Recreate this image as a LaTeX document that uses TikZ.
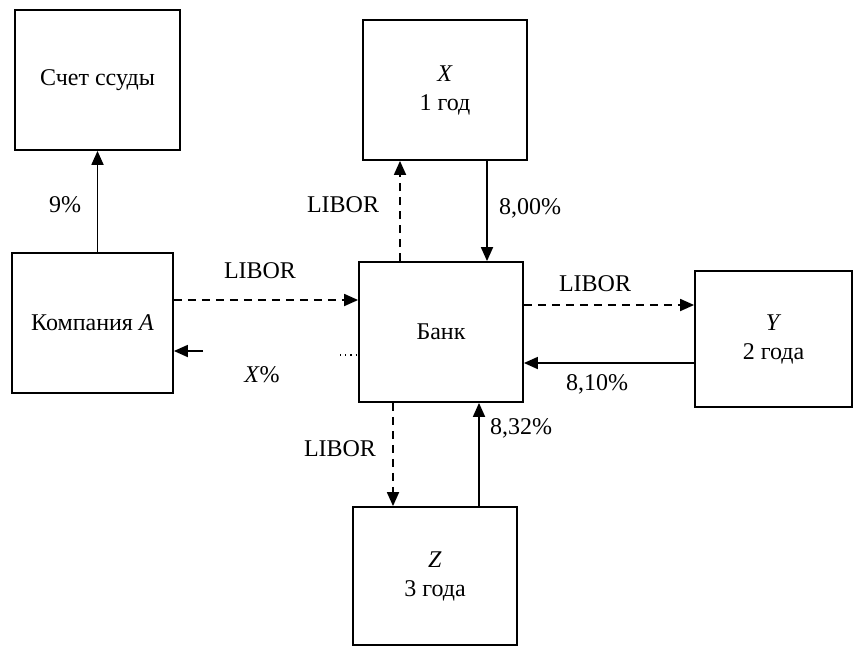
\documentclass[tikz,border=0pt]{standalone}
\usepackage{fontspec}
\setmainfont{Liberation Serif}
\usetikzlibrary{arrows.meta}
\begin{document}
\begin{tikzpicture}[x=0.5pt,y=-0.5pt,
  box/.style={draw,line width=0.9pt,minimum width=#1,inner sep=0pt,align=center,font=\fontsize{12}{14.5}\selectfont},
  lbl/.style={font=\fontsize{12}{14.5}\selectfont,inner sep=1pt},
  arr/.style={line width=0.9pt,-{Triangle[length=7pt,width=6pt]}},
  darr/.style={arr,dash pattern=on 4pt off 3pt}]
\useasboundingbox (0,0) rectangle (854,648);
\node[box=82.5pt,minimum height=70pt] (loan) at (97.5,80) {Счет ссуды};
\node[box=80.5pt,minimum height=70pt] (A) at (92.5,323) {Компания \textit{A}};
\node[box=82pt,minimum height=70pt] (X) at (445,90) {\textit{X}\\1 год};
\node[box=82pt,minimum height=70pt] (bank) at (441,332) {Банк};
\node[box=78.5pt,minimum height=68pt] (Y) at (773.5,339) {\textit{Y}\\2 года};
\node[box=82pt,minimum height=69pt] (Z) at (435,576) {\textit{Z}\\3 года};
% helper coordinates
\coordinate (cxl) at (400,0);
\coordinate (cxr) at (487,0);
\coordinate (czl) at (393,0);
\coordinate (czr) at (479,0);
\coordinate (cal) at (0,300);
\coordinate (cyl) at (0,305);
\coordinate (cyr) at (0,363);
\coordinate (xs) at (203,351);
\coordinate (dots1) at (340,355);
% connectors
\draw[arr] (A.north -| loan.south) -- (loan.south);
\draw[darr] (bank.north -| cxl) -- (X.south -| cxl);
\draw[arr] (X.south -| cxr) -- (bank.north -| cxr);
\draw[darr] (A.east |- cal) -- (bank.west |- cal);
\draw[arr] (xs) -- (A.east |- xs);
\draw[line width=0.6pt,dotted] (dots1) -- (bank.west |- dots1);
\draw[darr] (bank.east |- cyl) -- (Y.west |- cyl);
\draw[arr] (Y.west |- cyr) -- (bank.east |- cyr);
\draw[darr] (bank.south -| czl) -- (Z.north -| czl);
\draw[arr] (Z.north -| czr) -- (bank.south -| czr);
% labels
\node[lbl] (l9) at (65,205) {9\%};
\node[lbl] (lx1) at (343,205) {LIBOR};
\node[lbl] (lx2) at (530,208) {8,00\%};
\node[lbl] (la1) at (260,271) {LIBOR};
\node[lbl] (la2) at (262,375) {\textit{X}\%};
\node[lbl] (ly1) at (595,284) {LIBOR};
\node[lbl] (ly2) at (597,384) {8,10\%};
\node[lbl] (lz1) at (340,449) {LIBOR};
\node[lbl] (lz2) at (521,428) {8,32\%};
\end{tikzpicture}
\end{document}
